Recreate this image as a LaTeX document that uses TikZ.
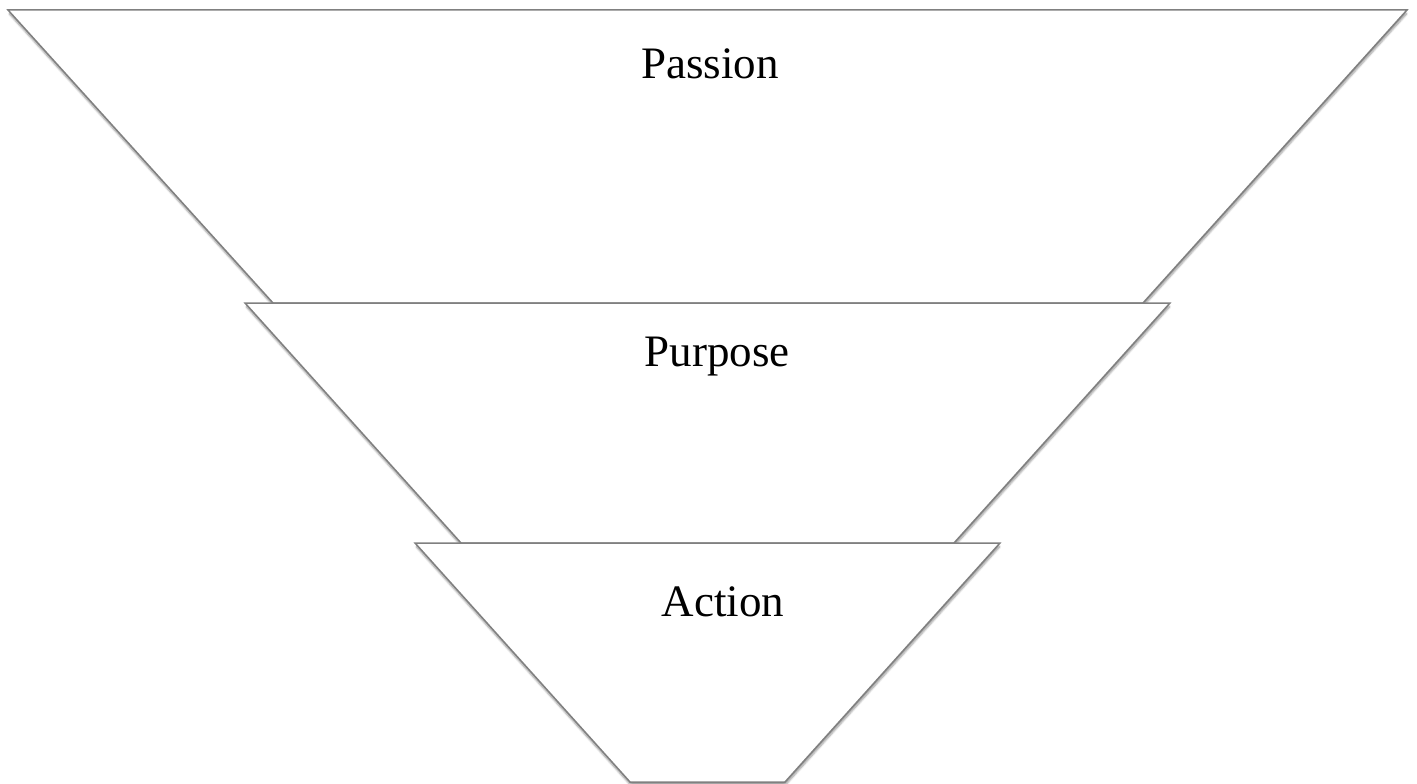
\documentclass[tikz,border=0pt]{standalone}
\usepackage{fontspec}
\setmainfont{Liberation Serif}
\usetikzlibrary{shadows.blur}
\begin{document}
\begin{tikzpicture}[x=1pt,y=-1pt,
  level/.style={draw=black!50, line width=1.5pt, fill=white, line join=miter,
    blur shadow={shadow xshift=0.5pt, shadow yshift=-3pt, shadow blur steps=6,
      shadow blur extra rounding=1.5pt, shadow opacity=40}},
  label/.style={anchor=base, inner sep=0pt, font=\fontsize{45pt}{54pt}\selectfont}]
  \useasboundingbox (0,0) rectangle (1417,784);
  % three stacked funnel levels, widest first
  \path[level] (8,10) -- (1407,10) -- (1143,303) -- (273,303) -- cycle;
  \path[level] (245,303) -- (1170,303) -- (954,543) -- (461,543) -- cycle;
  \path[level] (415,543) -- (1000,543) -- (785,782) -- (630,782) -- cycle;
  % level captions
  \node[label] (passion) at (710,78) {Passion};
  \node[label] (purpose) at (717,366) {Purpose};
  \node[label] (action)  at (723,616) {Action};
\end{tikzpicture}
\end{document}
